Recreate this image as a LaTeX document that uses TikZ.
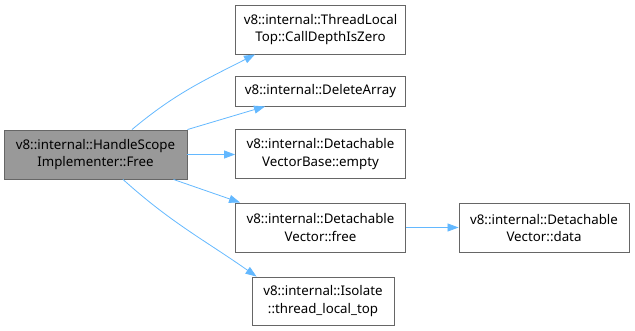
\documentclass[tikz,border=0pt]{standalone}
\usepackage{fontspec}
\setmainfont{Noto Sans}
\usetikzlibrary{arrows.meta}
\definecolor{callblue}{HTML}{63B8FF}
\definecolor{boxline}{HTML}{666666}
\definecolor{boxgray}{HTML}{999999}
\tikzset{
  fnbox/.style={draw=boxline, fill=white, line width=0.9pt, align=center,
    inner sep=0pt, minimum width=170pt, minimum height=49pt,
    font=\fontsize{13.3}{17.5}\selectfont},
  rootbox/.style={fnbox, fill=boxgray, minimum width=183pt},
  call/.style={draw=callblue, line width=0.8pt, -{Triangle[length=11pt,width=8pt]}}
}

\begin{document}
\begin{tikzpicture}[x=1pt, y=-1pt]
\useasboundingbox (0,0) rectangle (635,331);
% caller
\node[rootbox] (free) at (95.5,154.5) {v8::internal::HandleScope\\Implementer::Free};
% callees
\node[fnbox] (calldepth) at (320.5,29.5) {v8::internal::ThreadLocal\\Top::CallDepthIsZero};
\node[fnbox, minimum height=30pt] (deletearray) at (320.5,91) {v8::internal::DeleteArray};
\node[fnbox] (empty) at (320.5,154) {v8::internal::Detachable\\VectorBase::empty};
\node[fnbox] (vecfree) at (320.5,227.5) {v8::internal::Detachable\\Vector::free};
\node[fnbox, minimum width=142pt, minimum height=48pt] (tltop) at (323,301) {v8::internal::Isolate\\::thread\_local\_top};
\node[fnbox] (vecdata) at (544,228) {v8::internal::Detachable\\Vector::data};

\draw[call] ([xshift=36.5pt]free.north) to[out=40, in=207] ([xshift=-65.5pt]calldepth.south);
\draw[call] (free.north east) -- ([xshift=-55.5pt]deletearray.south);
\draw[call] (free.east) -- (free.east -| empty.west);
\draw[call] ([xshift=-14pt]free.south east) -- ([xshift=5pt]vecfree.north west);
\draw[call] ([xshift=27.5pt]free.south) to[out=-42, in=145] ([xshift=5pt]tltop.north west);
\draw[call] (vecfree.east) -- (vecfree.east -| vecdata.west);
\end{tikzpicture}
\end{document}
